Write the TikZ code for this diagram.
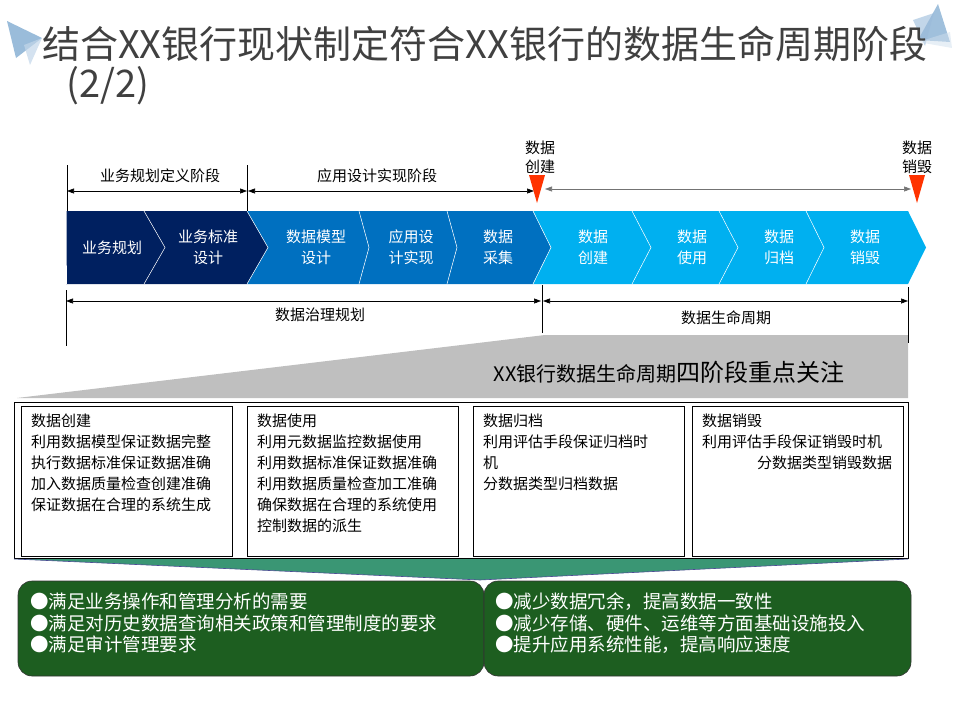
\documentclass[tikz,border=0pt]{standalone}
\usepackage{fontspec}
\setmainfont{Noto Sans CJK SC}
\usetikzlibrary{arrows.meta}
\definecolor{navy}{RGB}{0,32,96}
\definecolor{midblue}{RGB}{0,112,192}
\definecolor{skyblue}{RGB}{0,176,240}
\definecolor{markred}{RGB}{255,51,0}
\definecolor{wedgegray}{RGB}{191,191,191}
\definecolor{wedgegreen}{RGB}{58,150,116}
\definecolor{boxgreen}{RGB}{29,94,32}
\definecolor{titlegray}{RGB}{64,64,64}
\definecolor{decoblue}{RGB}{120,165,205}

\begin{document}
\begin{tikzpicture}[x=1pt,y=-1pt,
  dimline/.style={{Triangle[length=7pt,width=5pt]}-{Triangle[length=7pt,width=5pt]},line width=0.6pt},
  tickline/.style={line width=0.6pt},
  titletext/.style={anchor=west,inner sep=0,text=titlegray,font=\fontsize{38}{40}\selectfont},
  steptext/.style={text=white,align=center,inner sep=0,font=\fontsize{15}{20.5}\selectfont},
  labeltext/.style={inner sep=0,align=center,font=\fontsize{15}{19}\selectfont},
  cardtext/.style={anchor=north west,inner sep=0,text width=190pt,align=left,font=\fontsize{15}{21}\selectfont},
  gaintext/.style={anchor=north west,inner sep=0,text=white,align=left,font=\fontsize{18.5}{21.5}\selectfont},
  greenbox/.style={fill=boxgreen,draw=black!80,rounded corners=14pt,line width=0.6pt}]
\useasboundingbox (0,0) rectangle (960,720);

% corner decorations
\fill[decoblue,opacity=0.75] (7,21) -- (42,38) -- (16,58) -- cycle;
\fill[decoblue!45,opacity=0.7] (24,45) -- (42,38) -- (30,65) -- cycle;
\fill[decoblue,opacity=0.7] (938,4) -- (950,42) -- (918,40) -- cycle;
\fill[decoblue!75,opacity=0.6] (913,20) -- (934,13) -- (925,46) -- cycle;
\fill[decoblue!35,opacity=0.5] (918,42) -- (950,32) -- (952,48) -- cycle;

% title
\node[titletext] (title) at (42,44) {结合XX银行现状制定符合XX银行的数据生命周期阶段};
\node[titletext] (subtitle) at (66,86) {(2/2)};

% process chevrons: name/left/notch/right/tip/colour/centre/text
\foreach \nm/\xa/\na/\xb/\tb/\col/\cx/\txt in {
    c1/66/0/144/21/navy/112/业务规划,
    c2/144/21/247/21/navy/208/业务标准\\设计,
    c3/247/21/359/10/midblue/316/数据模型\\设计,
    c4/359/10/447/10/midblue/411/应用设\\计实现,
    c5/447/10/533/18/midblue/498/数据\\采集,
    c6/533/18/632/19/skyblue/593/数据\\创建,
    c7/632/19/719/19/skyblue/692/数据\\使用,
    c8/719/19/806/18/skyblue/779/数据\\归档,
    c9/806/18/908/18/skyblue/865/数据\\销毁}{
  \fill[\col] (\xa,211) -- (\xb,211) -- (\xb+\tb,247.5) -- (\xb,284) -- (\xa,284) -- (\xa+\na,247.5) -- cycle;
  \draw[white,line width=0.5pt] (\xa,211) -- (\xa+\na,247.5) -- (\xa,284);
  \node[steptext] (\nm) at (\cx,247.5) {\txt};
}

% stage spans above
\draw[tickline] (67,165) -- (67,211);
\draw[tickline] (247,165) -- (247,211);
\coordinate (ta) at (67,191);
\coordinate (tb) at (247,191);
\coordinate (tc) at (248,191);
\coordinate (td) at (534,191);
\draw[dimline] (ta) -- (tb);
\draw[dimline] (tc) -- (td);
\node[labeltext] (lplan) at (160,176) {业务规划定义阶段};
\node[labeltext] (lapp) at (377,176) {应用设计实现阶段};

% creation / destruction markers
\fill[markred] (529,175) -- (545,175) -- (537,203) -- cycle;
\fill[markred] (909,175) -- (925,175) -- (917,203) -- cycle;
\node[labeltext] (mcreate) at (540,157.5) {数据\\创建};
\node[labeltext] (mdestroy) at (917,157.5) {数据\\销毁};
\coordinate (te) at (545,189);
\coordinate (tf) at (911,189);
\draw[dimline,black!55] (te) -- (tf);

% grey focus wedge
\fill[wedgegray] (17,398) -- (545,335) -- (908,335) -- (908,398) -- cycle;
\node[inner sep=0] (focus) at (669,372) {\fontsize{20}{24}\selectfont XX银行数据生命周期\fontsize{24}{28}\selectfont 四阶段重点关注};

% spans below
\draw[tickline] (66,290) -- (66,346);
\draw[tickline] (542,285) -- (542,333);
\draw[tickline] (908,287) -- (908,343);
\coordinate (ba) at (66,301);
\coordinate (bb) at (541,301);
\coordinate (bc) at (543,301);
\coordinate (bd) at (908,301);
\draw[dimline] (ba) -- (bb);
\draw[dimline] (bc) -- (bd);
\node[labeltext] (lgov) at (320,315) {数据治理规划};
\node[labeltext] (llife) at (726,318) {数据生命周期};

% four phase cards
\draw[line width=0.6pt] (14,402) rectangle (908,558);
\foreach \nm/\xa/\xb/\txt in {
    card1/21/232/{数据创建\\利用数据模型保证数据完整\\执行数据标准保证数据准确\\加入数据质量检查创建准确\\保证数据在合理的系统生成},
    card2/247/458/{数据使用\\利用元数据监控数据使用\\利用数据标准保证数据准确\\利用数据质量检查加工准确\\确保数据在合理的系统使用\\控制数据的派生},
    card3/473/684/{数据归档\\利用评估手段保证归档时\\机\\分数据类型归档数据},
    card4/692/903/{数据销毁\\利用评估手段保证销毁时机\\\hspace*{\stretch{1}}分数据类型销毁数据}}{
  \draw[line width=0.6pt] (\xa,406) rectangle (\xb,556);
  \node[cardtext] (\nm) at (\xa+10,414) {\txt};
}

% green wedge
\fill[wedgegreen] (14,559) -- (908,559) -- (480,580) -- cycle;
\draw[black!30!blue!40!gray,line width=0.6pt] (14,559) -- (480,580) -- (908,559);

% benefit boxes
\draw[greenbox] (18,581) rectangle (484,676);
\draw[greenbox] (484,581) rectangle (911,676);
\node[gaintext] (gain1) at (30,593) {●满足业务操作和管理分析的需要\\●满足对历史数据查询相关政策和管理制度的要求\\●满足审计管理要求};
\node[gaintext] (gain2) at (495,593) {●减少数据冗余，提高数据一致性\\●减少存储、硬件、运维等方面基础设施投入\\●提升应用系统性能，提高响应速度};
\end{tikzpicture}
\end{document}
